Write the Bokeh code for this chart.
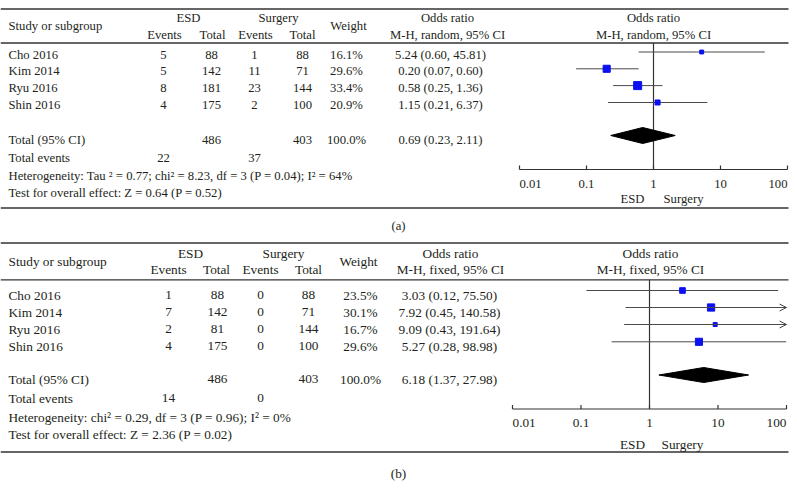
from bokeh.plotting import figure
from bokeh.models import Range1d, LogScale, ColumnDataSource, Arrow, OpenHead
from bokeh.embed import file_html
from bokeh.resources import INLINE
from bokeh.core.properties import value

# ---------------- data ----------------
studies = ["Cho 2016", "Kim 2014", "Ryu 2016", "Shin 2016"]

a_esd_events = [5, 5, 8, 4]
a_esd_total = [88, 142, 181, 175]
a_sur_events = [1, 11, 23, 2]
a_sur_total = [88, 71, 144, 100]
a_weight = [16.1, 29.6, 33.4, 20.9]
a_or = [5.24, 0.20, 0.58, 1.15]
a_lo = [0.60, 0.07, 0.25, 0.21]
a_hi = [45.81, 0.60, 1.36, 6.37]
a_pooled = [0.69, 0.23, 2.11]
a_totals = [486, 403]
a_total_events = [22, 37]
a_het = "Heterogeneity: Tau \u00b2 = 0.77; chi\u00b2 = 8.23, df = 3 (P = 0.04); I\u00b2 = 64%"
a_test = "Test for overall effect:  Z = 0.64 (P = 0.52)"
a_method = "M-H, random, 95% CI"

b_esd_events = [1, 7, 2, 4]
b_esd_total = [88, 142, 81, 175]
b_sur_events = [0, 0, 0, 0]
b_sur_total = [88, 71, 144, 100]
b_weight = [23.5, 30.1, 16.7, 29.6]
b_or = [3.03, 7.92, 9.09, 5.27]
b_lo = [0.12, 0.45, 0.43, 0.28]
b_hi = [75.50, 140.58, 191.64, 98.98]
b_pooled = [6.18, 1.37, 27.98]
b_totals = [486, 403]
b_total_events = [14, 0]
b_het = "Heterogeneity: chi\u00b2 = 0.29, df = 3 (P = 0.96); I\u00b2 = 0%"
b_test = "Test for overall effect:  Z = 2.36 (P = 0.02)"
b_method = "M-H, fixed, 95% CI"

tick_values = [0.01, 0.1, 1, 10, 100]
tick_labels = ["0.01", "0.1", "1", "10", "100"]

# ---------------- figure ----------------
W, H = 797, 496
p = figure(width=W, height=H, output_backend="svg", toolbar_location=None,
           x_range=Range1d(0, W), y_range=Range1d(H, 0),
           x_axis_location=None, y_axis_location=None, min_border=0,
           outline_line_color=None, background_fill_color="white",
           border_fill_color="white")
p.xgrid.visible = False
p.ygrid.visible = False
p.extra_x_ranges = {
    "or_a": Range1d(10 ** ((0 - 653) / 67.0), 10 ** ((W - 653) / 67.0)),
    "or_b": Range1d(10 ** ((0 - 649) / 68.5), 10 ** ((W - 649) / 68.5)),
}
p.extra_x_scales = {"or_a": LogScale(), "or_b": LogScale()}

FONT = value("Liberation Serif")
TXT = "#231f20"
RULE = "#333333"
TEXT_SHIFT = -3.5


def txt(xs, ys, texts, size, align="left", rng="default"):
    p.text(x=xs, y=[y + TEXT_SHIFT for y in ys], text=texts, text_font=FONT,
           text_font_size=size, text_align=align, text_baseline="alphabetic",
           text_color=TXT, x_range_name=rng)


def panel(L, ev1, tot1, ev2, tot2, wt, ors, los, his, pooled, totals, tevents,
          het, test, method, caption):
    fs = L["fs"]
    rng = L["rng"]
    rows = L["rows"]
    # rules
    p.segment(x0=[0, 0, 0], x1=[788, 788, 788],
              y0=[L["rule_top"], L["rule_hdr"], L["rule_bot"]],
              y1=[L["rule_top"], L["rule_hdr"], L["rule_bot"]],
              line_color=[RULE, RULE, L["bot_color"]],
              line_width=[1.3, 1.3, L["bot_width"]])
    # header
    txt([8], [L["hdr_mid"]], ["Study or subgroup"], fs)
    txt([L["h_esd"], L["h_sur"]], [L["hdr1"]] * 2, ["ESD", "Surgery"], fs, "center")
    txt([L["h_ev1"], L["h_tot1"], L["h_ev2"], L["h_tot2"]], [L["hdr2"]] * 4,
        ["Events", "Total", "Events", "Total"], fs, "center")
    txt([L["h_wt"]], [L["hdr_mid"]], ["Weight"], fs, "center")
    txt([L["h_or"], L["h_or"]], [L["hdr1"], L["hdr2"]], ["Odds ratio", method], fs, "center")
    txt([L["f_hdr"], L["f_hdr"]], [L["hdr1"], L["hdr2"]], ["Odds ratio", method], fs, "center")
    # study rows
    txt([8] * 4, rows, studies, fs)
    txt([L["c_ev1"]] * 4, rows, [str(v) for v in ev1], fs, "center")
    txt([L["c_tot1"]] * 4, rows, [str(v) for v in tot1], fs, "center")
    txt([L["c_ev2"]] * 4, rows, [str(v) for v in ev2], fs, "center")
    txt([L["c_tot2"]] * 4, rows, [str(v) for v in tot2], fs, "center")
    txt([L["c_wt"]] * 4, rows, ["%.1f%%" % w for w in wt], fs, "center")
    txt([L["c_or"]] * 4, rows,
        ["%.2f (%.2f, %.2f)" % (o, l, h) for o, l, h in zip(ors, los, his)], fs, "center")
    # totals
    txt([8], [L["total"]], ["Total (95% CI)"], fs)
    txt([L["c_tot1"], L["c_tot2"]], [L["total"]] * 2, [str(v) for v in totals], fs, "center")
    txt([L["c_wt"]], [L["total"]], ["100.0%"], fs, "center")
    txt([L["c_or"]], [L["total"]], ["%.2f (%.2f, %.2f)" % tuple(pooled)], fs, "center")
    txt([8], [L["events"]], ["Total events"], fs)
    txt([L["c_ev1"], L["c_ev2"]], [L["events"]] * 2, [str(v) for v in tevents], fs, "center")
    txt([8, 8], [L["het"], L["test"]], [het, test], fs)

    # forest plot: vertical line of no effect
    p.segment(x0=[1], x1=[1], y0=[L["rule_hdr"]], y1=[L["axis"]],
              line_color=RULE, line_width=1.2, x_range_name=rng)
    # CIs
    my = [r - L["mk_off"] for r in rows]
    his_c = [min(h, tick_values[-1]) for h in his]
    p.segment(x0=los, x1=his_c, y0=my, y1=my, line_color="#4a4a4a",
              line_width=1.0, x_range_name=rng)
    arr = [i for i, h in enumerate(his) if h > tick_values[-1]]
    if arr:
        src = ColumnDataSource(dict(x0=[los[i] for i in arr], x1=[his_c[i] for i in arr],
                                    y=[my[i] for i in arr]))
        p.add_layout(Arrow(end=OpenHead(size=7, line_width=1.0, line_color="#4a4a4a"),
                           x_start="x0", y_start="y", x_end="x1", y_end="y",
                           source=src, line_color="#4a4a4a", line_width=1.0,
                           x_range_name=rng))
    p.scatter(x=ors, y=my, marker="square", size=[0.24 * w for w in wt],
              fill_color="#0a10f0", line_color="#0a10f0", x_range_name=rng)
    # diamond
    dy = L["total"] - L["dia_off"]
    hh = L["dia_h"]
    p.patch(x=[pooled[1], pooled[0], pooled[2], pooled[0]],
            y=[dy, dy - hh, dy, dy + hh], fill_color="black", line_color="black",
            x_range_name=rng)
    # axis
    ay = L["axis"]
    p.segment(x0=[tick_values[0]], x1=[tick_values[-1]], y0=[ay], y1=[ay],
              line_color=RULE, line_width=1.2, x_range_name=rng)
    p.segment(x0=tick_values, x1=tick_values, y0=[ay] * 5, y1=[ay - 4] * 5,
              line_color=RULE, line_width=1.2, x_range_name=rng)
    aligns = ["left", "center", "center", "center", "right"]
    for tv, tl, al in zip(tick_values, tick_labels, aligns):
        txt([tv], [L["ticklab"]], [tl], fs, al, rng)
    txt([L["lab_esd"], L["lab_sur"]], [L["dirlab"]] * 2, ["ESD", "Surgery"], fs, "center")
    txt([398], [L["cap"]], [caption], fs, "center")


LA = dict(fs="12.7px", rng="or_a", rule_top=8.5, hdr1=21, hdr_mid=28.5, hdr2=37.5,
          rule_hdr=42.5, rows=[57.5, 74.3, 91.1, 108.0], total=143, events=161,
          het=178.5, test=196, axis=169, ticklab=187, dirlab=202, rule_bot=207.5,
          bot_color=RULE, bot_width=1.3, cap=229,
          h_esd=188, h_sur=278, h_ev1=164, h_tot1=212, h_ev2=255, h_tot2=302, h_wt=348,
          h_or=447, f_hdr=653, c_ev1=163, c_tot1=211, c_ev2=254, c_tot2=302, c_wt=346,
          c_or=440, lab_esd=632, lab_sur=683, mk_off=6, dia_off=8, dia_h=8)
LB = dict(fs="13.3px", rng="or_b", rule_top=242.5, hdr1=256.5, hdr_mid=264.5, hdr2=272,
          rule_hdr=279.3, rows=[298, 315, 332, 349.3], total=382, events=401,
          het=420, test=437.5, axis=408.5, ticklab=426, dirlab=447, rule_bot=451.5,
          bot_color="#666666", bot_width=2.0, cap=476,
          h_esd=190, h_sur=283, h_ev1=168, h_tot1=216, h_ev2=260, h_tot2=308, h_wt=358,
          h_or=450, f_hdr=650, c_ev1=168, c_tot1=217, c_ev2=260, c_tot2=308, c_wt=360,
          c_or=449, lab_esd=632, lab_sur=682, mk_off=8, dia_off=7.5, dia_h=7.5)

panel(LA, a_esd_events, a_esd_total, a_sur_events, a_sur_total, a_weight, a_or, a_lo,
      a_hi, a_pooled, a_totals, a_total_events, a_het, a_test, a_method, "(a)")
panel(LB, b_esd_events, b_esd_total, b_sur_events, b_sur_total, b_weight, b_or, b_lo,
      b_hi, b_pooled, b_totals, b_total_events, b_het, b_test, b_method, "(b)")

open("out.html", "w").write(file_html(p, INLINE))
